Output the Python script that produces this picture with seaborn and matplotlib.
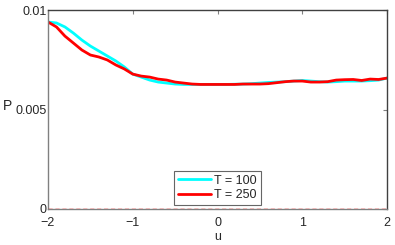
import numpy as np
import pandas as pd
import matplotlib
matplotlib.use("Agg")
import matplotlib.pyplot as plt
import seaborn as sns
from matplotlib.lines import Line2D

u = [-2.0, -1.9, -1.8, -1.7, -1.6, -1.5, -1.4, -1.3, -1.2, -1.1, -1.0,
     -0.9, -0.8, -0.7, -0.6, -0.5, -0.4, -0.3, -0.2, -0.1, 0.0,
     0.1, 0.2, 0.3, 0.4, 0.5, 0.6, 0.7, 0.8, 0.9, 1.0,
     1.1, 1.2, 1.3, 1.4, 1.5, 1.6, 1.7, 1.8, 1.9, 2.0]
p_t100 = [0.00940, 0.00935, 0.00915, 0.00884, 0.00849, 0.00819, 0.00794, 0.00769, 0.00744, 0.00714, 0.00678,
          0.00663, 0.00648, 0.00638, 0.00633, 0.00628, 0.00626, 0.00626, 0.00626, 0.00626, 0.00626,
          0.00626, 0.00627, 0.00628, 0.00630, 0.00633, 0.00636, 0.00638, 0.00640, 0.00643, 0.00646,
          0.00643, 0.00640, 0.00638, 0.00640, 0.00643, 0.00643, 0.00643, 0.00645, 0.00648, 0.00658]
p_t250 = [0.00940, 0.00915, 0.00869, 0.00834, 0.00799, 0.00774, 0.00764, 0.00749, 0.00724, 0.00704, 0.00678,
          0.00668, 0.00663, 0.00653, 0.00648, 0.00638, 0.00633, 0.00628, 0.00626, 0.00626, 0.00626,
          0.00626, 0.00626, 0.00628, 0.00628, 0.00628, 0.00630, 0.00635, 0.00640, 0.00643, 0.00643,
          0.00638, 0.00638, 0.00640, 0.00648, 0.00650, 0.00651, 0.00646, 0.00653, 0.00651, 0.00658]
labels = ["T = 100", "T = 250"]
colors = ["#00ffff", "#ff0000"]
xticks = [-2, -1, 0, 1, 2]
xticklabels = ["\u22122", "\u22121", "0", "1", "2"]
yticks = [0, 0.005, 0.01]
yticklabels = ["0", "0.005", "0.01"]

df = pd.DataFrame({
    "u": u * 2,
    "P": p_t100 + p_t250,
    "series": [labels[0]] * len(u) + [labels[1]] * len(u),
})

sns.set_style("white")
plt.rcParams["font.family"] = ["Liberation Sans", "DejaVu Sans"]

fig = plt.figure(figsize=(3.95, 2.45), dpi=100)
ax = fig.add_axes([0.1215, 0.147, 0.8585, 0.812])
sns.lineplot(data=df, x="u", y="P", hue="series", palette=colors, ax=ax,
             linewidth=2, legend=False)
ax.axhline(0, color="red", ls="--", lw=1, zorder=5, dashes=(3, 2))

ax.set_xlim(-2, 2)
ax.set_ylim(0, 0.01)
ax.set_xticks(xticks)
ax.set_xticklabels(xticklabels)
ax.set_yticks(yticks)
ax.set_yticklabels(yticklabels)
ax.tick_params(direction="in", length=3, width=0.8, color="#808080",
               labelsize=9, top=True, right=True, pad=2)
ax.tick_params(axis="x", pad=6)
ax.tick_params(axis="y", pad=1)
for s in ax.spines.values():
    s.set_color("#808080")
    s.set_linewidth(1)
ax.spines["top"].set_color("#404040")
ax.spines["right"].set_color("#404040")

ax.set_xlabel("u", fontsize=9, labelpad=1)
ax.set_ylabel("P", fontsize=10, rotation=0, labelpad=0)
ax.yaxis.set_label_coords(-0.12, 0.48)

handles = [Line2D([], [], color=c, lw=2) for c in colors]
leg = ax.legend(handles, labels, loc="lower center", bbox_to_anchor=(0.5, 0.02),
                fontsize=9, frameon=True, fancybox=False, handlelength=2.6,
                handletextpad=0.3, borderpad=0.3, labelspacing=0.2, borderaxespad=0)
leg.get_frame().set_edgecolor("#404040")
leg.get_frame().set_linewidth(0.8)

fig.savefig("out.png", dpi=100)
